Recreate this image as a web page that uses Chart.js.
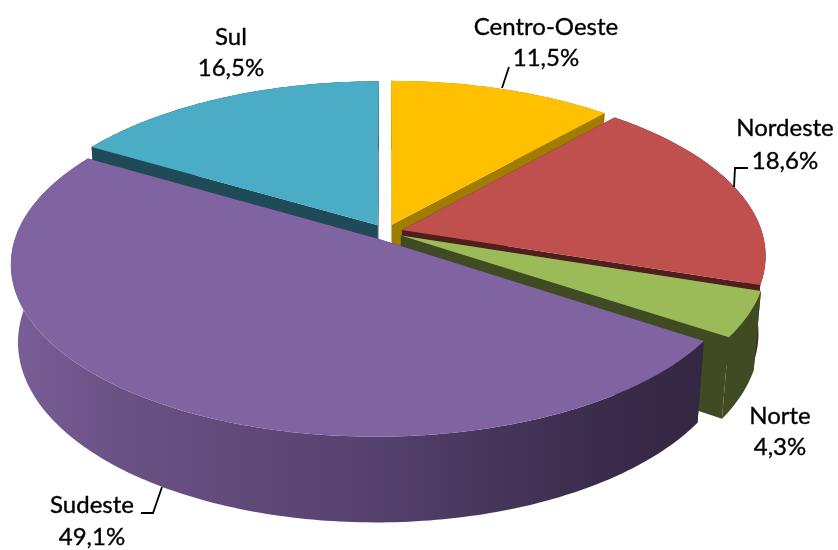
<!DOCTYPE html>
<html>
<head>
<meta charset="utf-8">
<title>Regiões</title>
<script src="https://cdn.jsdelivr.net/npm/chart.js@4/dist/chart.umd.min.js"></script>
<style>
  html, body { margin: 0; padding: 0; background: #fff; }
  canvas { display: block; }
</style>
</head>
<body>
<canvas id="chart" width="838" height="550"></canvas>
<script>
var categories = ["Centro-Oeste", "Nordeste", "Norte", "Sudeste", "Sul"];
var shares = [11.5, 18.6, 4.3, 49.1, 16.5];
var topColors = ["#FFC000", "#C0504D", "#9BBB59", "#8064A2", "#4BACC6"];
var sideColors = ["#A07C00", "#4F1F1E", "#404B23", "#362945", "#1F4A57"];

// back to front, the big slice has to cover the others
var paintOrder = [4, 0, 1, 2, 3];

// camera for the fake 3d look (radius of the pie = 1)
var view = { cx: 386, cy: 232, scale: 360, sinE: 0.464, cosE: 0.886, dist: 6.05, depth: 0.245, explode: 0.046 };

// where the text goes, in the same order as categories
var labelSpots = [
  { x: 546, y: 27, gap: 31, leader: [[509, 67], [502, 88]] },
  { x: 785, y: 128, gap: 33, leader: [[748, 168], [735, 168], [734, 187]] },
  { x: 780, y: 416, gap: 31, leader: [] },
  { x: 92, y: 505, gap: 32, leader: [[141, 513], [153, 513], [162, 487]] },
  { x: 231, y: 37, gap: 31, leader: [] }
];

function project(x, y, z) {
  var v = view;
  var yc = y * v.sinE - z * v.cosE;
  var zc = v.dist - y * v.cosE - z * v.sinE;
  var f = v.dist / zc;
  return [v.cx + v.scale * x * f, v.cy + v.scale * yc * f];
}

function fillPoly(ctx, pts, color) {
  ctx.beginPath();
  pts.forEach(function (p, i) {
    if (i === 0) ctx.moveTo(p[0], p[1]); else ctx.lineTo(p[0], p[1]);
  });
  ctx.closePath();
  ctx.fillStyle = color;
  ctx.fill();
}

// gradient only for the big purple wall, the others are flat
function wallFill(ctx, i, xs) {
  if (i !== 3) return sideColors[i];
  var g = ctx.createLinearGradient(Math.min.apply(null, xs), 0, Math.max.apply(null, xs), 0);
  g.addColorStop(0, "#7A5E98");
  g.addColorStop(0.15, "#6B5285");
  g.addColorStop(0.5, "#574270");
  g.addColorStop(0.85, "#3A2C4B");
  g.addColorStop(1, "#342742");
  return g;
}

var pie3d = {
  id: "pie3d",
  beforeDatasetDraw: function () { return false; },
  afterDatasetsDraw: function (chart) {
    var ctx = chart.ctx;
    var arcs = chart.getDatasetMeta(0).data;
    ctx.save();
    paintOrder.forEach(function (i) {
      var arc = arcs[i];
      var a0 = arc.startAngle, a1 = arc.endAngle, mid = (a0 + a1) / 2;
      var ox = view.explode * Math.cos(mid), oy = view.explode * Math.sin(mid);
      var h = -view.depth;
      var rimTop = [], rimBot = [];
      var n = Math.max(6, Math.round((a1 - a0) * 60));
      for (var k = 0; k <= n; k++) {
        var a = a0 + (a1 - a0) * k / n;
        rimTop.push(project(ox + Math.cos(a), oy + Math.sin(a), 0));
        rimBot.push(project(ox + Math.cos(a), oy + Math.sin(a), h));
      }
      var tipTop = project(ox, oy, 0), tipBot = project(ox, oy, h);
      // cut faces first, then rim, then the lid
      fillPoly(ctx, [tipTop, rimTop[0], rimBot[0], tipBot], sideColors[i]);
      fillPoly(ctx, [tipTop, rimTop[n], rimBot[n], tipBot], sideColors[i]);
      var wall = rimTop.concat(rimBot.slice().reverse());
      fillPoly(ctx, wall, wallFill(ctx, i, wall.map(function (p) { return p[0]; })));
      fillPoly(ctx, [tipTop].concat(rimTop), arc.options.backgroundColor);
    });
    ctx.restore();
  },
  afterDraw: function (chart) {
    var ctx = chart.ctx;
    ctx.save();
    ctx.font = "24px Lato";
    ctx.textAlign = "center";
    ctx.textBaseline = "middle";
    ctx.fillStyle = "#000";
    ctx.strokeStyle = "#000";
    categories.forEach(function (name, i) {
      var s = labelSpots[i];
      var pct = shares[i].toFixed(1).replace(".", ",") + "%";
      ctx.lineWidth = 0.35;
      ctx.fillText(name, s.x, s.y);
      ctx.strokeText(name, s.x, s.y);
      ctx.fillText(pct, s.x, s.y + s.gap);
      ctx.strokeText(pct, s.x, s.y + s.gap);
      if (s.leader.length) {
        ctx.lineWidth = 1.8;
        ctx.beginPath();
        s.leader.forEach(function (p, k) {
          if (k === 0) ctx.moveTo(p[0], p[1]); else ctx.lineTo(p[0], p[1]);
        });
        ctx.stroke();
      }
    });
    ctx.restore();
  }
};

new Chart(document.querySelector("#chart").getContext("2d"), {
  type: "pie",
  data: {
    labels: categories,
    datasets: [{ data: shares, backgroundColor: topColors, borderWidth: 0 }]
  },
  options: {
    responsive: false,
    animation: false,
    rotation: 0,
    plugins: { legend: { display: false }, tooltip: { enabled: false } }
  },
  plugins: [pie3d]
});
</script>
</body>
</html>
